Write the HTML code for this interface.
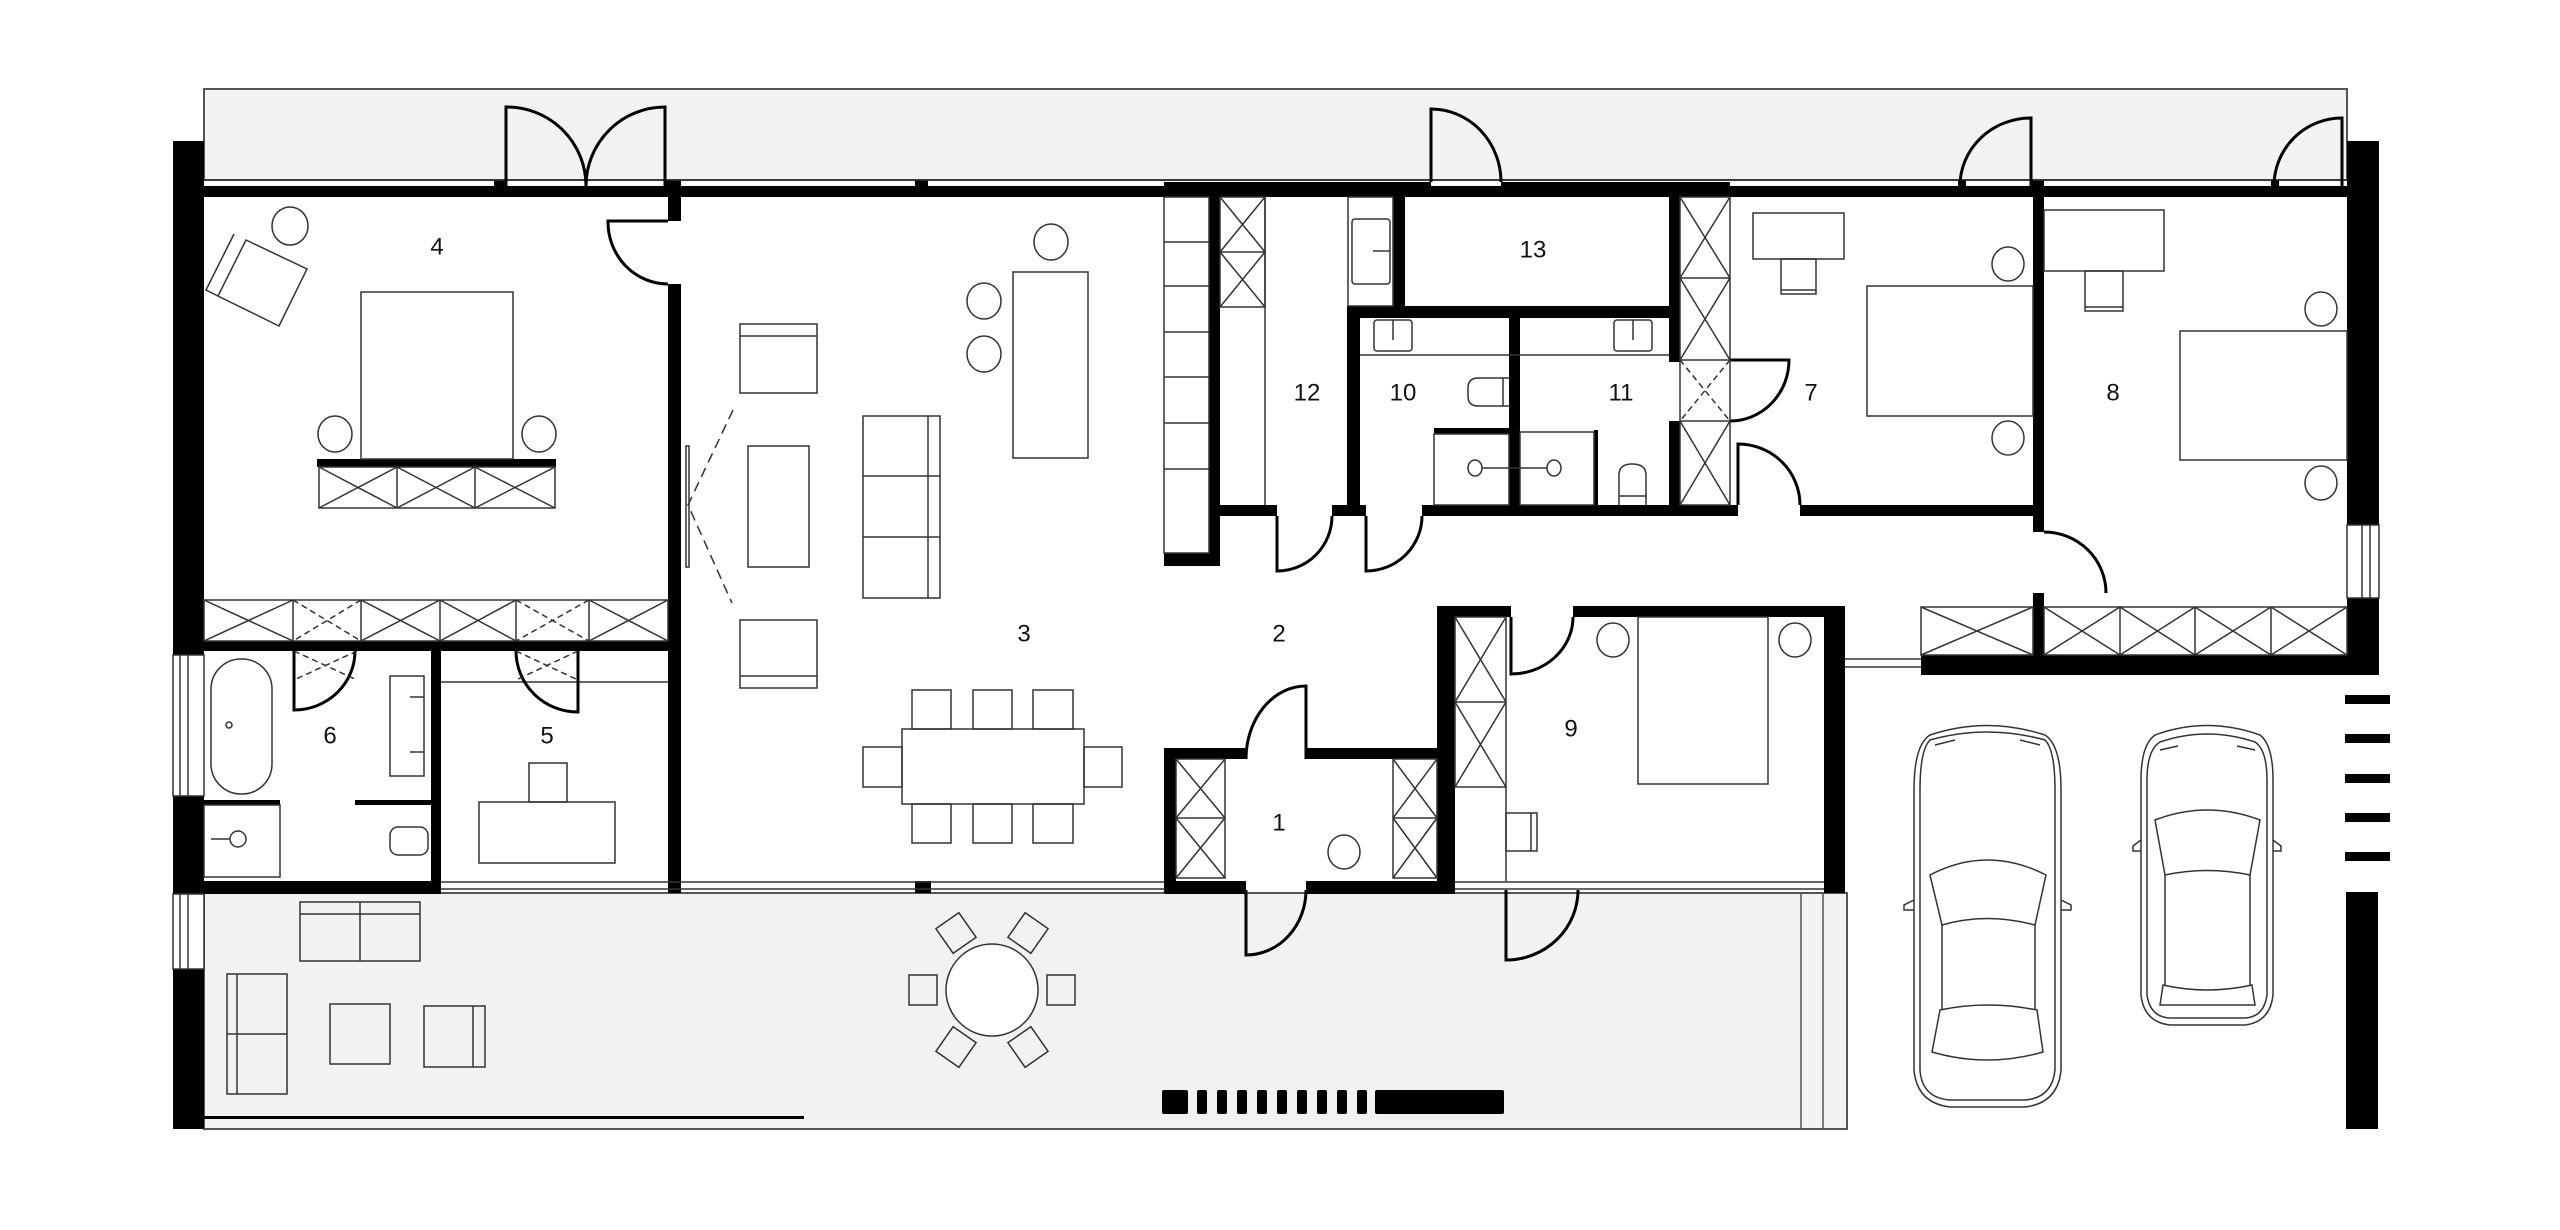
<!DOCTYPE html>
<html><head><meta charset="utf-8"><style>
html,body{margin:0;padding:0;background:#fff}
svg{display:block}
text{font-family:"Liberation Sans",sans-serif;font-size:24px;fill:#111;text-anchor:middle;dominant-baseline:middle}
</style></head><body>
<svg width="2560" height="1230" viewBox="0 0 2560 1230" xmlns="http://www.w3.org/2000/svg">
<!-- terraces -->
<rect x="204" y="89" width="2143" height="91" fill="#f2f2f2" stroke="#555" stroke-width="2"/>
<rect x="204" y="893" width="1643" height="236" fill="#f2f2f2" stroke="#555" stroke-width="2"/>
<line x1="1801" y1="893" x2="1801" y2="1129" stroke="#555" stroke-width="1.5"/>
<line x1="1823" y1="893" x2="1823" y2="1129" stroke="#555" stroke-width="1.5"/>

<g fill="#000">
<!-- top wall -->
<rect x="173" y="186" width="2206" height="11"/>
<rect x="494" y="180" width="13" height="8"/><rect x="665" y="180" width="16" height="8"/><rect x="915" y="180" width="13" height="8"/>
<rect x="1164" y="182" width="267" height="15"/><rect x="1501" y="182" width="229" height="15"/>
<rect x="1958" y="180" width="8" height="8"/><rect x="2031" y="180" width="13" height="8"/><rect x="2271" y="180" width="8" height="8"/>
<!-- left wall -->
<rect x="173" y="141" width="31" height="514"/><rect x="173" y="796" width="31" height="98"/><rect x="173" y="969" width="31" height="160"/>
<!-- right wall -->
<rect x="2347" y="141" width="32" height="384"/><rect x="2347" y="598" width="32" height="77"/>
<!-- south -->
<rect x="173" y="881" width="268" height="13"/>
<rect x="1165" y="881" width="81" height="13"/><rect x="1306" y="881" width="149" height="13"/>
<rect x="915" y="881" width="16" height="12"/>
<!-- interior -->
<rect x="668" y="197" width="13" height="24"/><rect x="668" y="284" width="13" height="609"/>
<rect x="204" y="641" width="477" height="10"/>
<rect x="431" y="651" width="10" height="230"/>
<rect x="204" y="800" width="76" height="5"/><rect x="355" y="800" width="76" height="5"/>
<rect x="1209" y="197" width="11" height="369"/><rect x="1164" y="553" width="56" height="13"/>
<rect x="1220" y="505" width="57" height="11"/><rect x="1332" y="505" width="34" height="11"/>
<rect x="1422" y="505" width="316" height="11"/><rect x="1800" y="505" width="244" height="11"/>
<rect x="1347" y="306" width="13" height="210"/><rect x="1347" y="306" width="333" height="12"/>
<rect x="1393" y="197" width="12" height="121"/><rect x="1509" y="318" width="11" height="187"/>
<rect x="1669" y="197" width="11" height="165"/><rect x="1669" y="421" width="11" height="95"/>
<rect x="2033" y="197" width="11" height="335"/><rect x="2033" y="593" width="11" height="82"/>
<rect x="1921" y="655" width="458" height="20"/>
<rect x="1437" y="606" width="74" height="11"/><rect x="1573" y="606" width="272" height="11"/>
<rect x="1824" y="606" width="21" height="287"/><rect x="1437" y="606" width="18" height="287"/>
<rect x="1164" y="748" width="12" height="145"/><rect x="1164" y="748" width="82" height="11"/><rect x="1306" y="748" width="139" height="11"/>
<rect x="1434" y="428" width="75" height="6"/><rect x="1594" y="430" width="4" height="75"/>
<rect x="317" y="459" width="239" height="8"/>
<!-- stripes -->
<rect x="2345" y="695" width="45" height="9"/><rect x="2345" y="734" width="45" height="9"/><rect x="2345" y="774" width="45" height="9"/><rect x="2345" y="813" width="45" height="9"/><rect x="2345" y="852" width="45" height="9"/>
<rect x="2346" y="892" width="32" height="237"/>
<!-- bottom bar -->
<rect x="1162" y="1090" width="26" height="24" rx="2"/>
<rect x="1197" y="1090" width="10" height="24" rx="2"/><rect x="1217" y="1090" width="10" height="24" rx="2"/><rect x="1237" y="1090" width="10" height="24" rx="2"/><rect x="1257" y="1090" width="10" height="24" rx="2"/><rect x="1277" y="1090" width="10" height="24" rx="2"/><rect x="1297" y="1090" width="10" height="24" rx="2"/><rect x="1317" y="1090" width="10" height="24" rx="2"/><rect x="1337" y="1090" width="10" height="24" rx="2"/><rect x="1357" y="1090" width="10" height="24" rx="2"/>
<rect x="1375" y="1090" width="129" height="24" rx="2"/>
<rect x="204" y="1116" width="600" height="3"/>
</g>

<!-- windows / glazing -->
<g fill="#fff" stroke="#333" stroke-width="1.5">
<rect x="173" y="655" width="31" height="141"/><rect x="173" y="894" width="31" height="75"/><rect x="2347" y="525" width="32" height="73"/>
</g>
<g stroke="#333" stroke-width="1.5" fill="none">
<line x1="180" y1="655" x2="180" y2="796"/><line x1="188" y1="655" x2="188" y2="796"/><line x1="180" y1="894" x2="180" y2="969"/><line x1="188" y1="894" x2="188" y2="969"/>
<line x1="2370" y1="525" x2="2370" y2="598"/><line x1="2362" y1="525" x2="2362" y2="598"/>
<line x1="441" y1="882" x2="1165" y2="882"/><line x1="441" y1="889" x2="1165" y2="889"/>
<line x1="1455" y1="882" x2="1824" y2="882"/><line x1="1455" y1="889" x2="1824" y2="889"/>
<line x1="1845" y1="659" x2="1921" y2="659"/><line x1="1845" y1="667" x2="1921" y2="667"/>
<line x1="441" y1="682" x2="668" y2="682"/>
<line x1="204" y1="180" x2="2347" y2="180"/>
</g>

<!-- doors -->
<g stroke="#000" stroke-width="3" fill="none">
<path d="M506 186 V107 A79 79 0 0 1 586 186"/>
<path d="M665 186 V107 A79 79 0 0 0 586 186"/>
<path d="M668 221 H608 A60 62 0 0 0 668 284"/>
<path d="M294 651 V710 A61 59 0 0 0 355 651"/>
<path d="M578 651 V712 A62 61 0 0 1 516 651"/>
<path d="M1431 182 V109 A70 73 0 0 1 1501 182"/>
<path d="M1277 516 V571 A55 55 0 0 0 1332 516"/>
<path d="M1366 516 V571 A56 55 0 0 0 1422 516"/>
<path d="M1730 360 H1789 A59 61 0 0 1 1730 421"/>
<path d="M1738 505 V444 A62 61 0 0 1 1800 505"/>
<path d="M2044 532 A62 61 0 0 1 2106 593"/>
<path d="M2031 186 V118 A71 68 0 0 0 1960 186"/>
<path d="M2342 186 V118 A68 68 0 0 0 2274 186"/>
<path d="M1511 617 V674 A62 57 0 0 0 1573 617"/>
<path d="M1506 890 V960 A72 70 0 0 0 1578 890"/>
<path d="M1306 759 V686 A60 73 0 0 0 1246 759"/>
<path d="M1246 890 V955 A60 65 0 0 0 1306 890"/>
</g>

<!-- thin furniture -->
<g stroke="#333" stroke-width="1.5" fill="none">
<!-- room 4 -->
<rect x="361" y="292" width="152" height="167"/>
<ellipse cx="335" cy="434" rx="17" ry="18"/><ellipse cx="539" cy="434" rx="17" ry="18"/>
<ellipse cx="290" cy="226" rx="18" ry="19"/>
<path d="M246 240 L307 269 L279 326 L218 296 Z"/><path d="M234 234 L206 290 L218 296"/>
<rect x="319" y="467" width="236" height="41"/>
<path d="M319 467 L397 508 M397 467 L319 508 M397 467 L475 508 M475 467 L397 508 M475 467 L555 508 M555 467 L475 508 M397 467 V508 M475 467 V508"/>
<rect x="204" y="600" width="464" height="41"/>
<path d="M204 600 L293 641 M293 600 L204 641 M361 600 L440 641 M440 600 L361 641 M440 600 L516 641 M516 600 L440 641 M589 600 L668 641 M668 600 L589 641 M293 600 V641 M361 600 V641 M440 600 V641 M516 600 V641 M589 600 V641"/>
<path d="M293 600 L361 641 M361 600 L293 641 M516 600 L589 641 M589 600 L516 641 M294 651 L357 680 M357 651 L294 680 M516 651 L578 680 M578 651 L516 680" stroke-dasharray="6 4"/>
<!-- bathroom 6 -->
<rect x="211" y="659" width="61" height="135" rx="30"/><circle cx="229" cy="725" r="3"/>
<rect x="204" y="805" width="76" height="72"/><circle cx="238" cy="839" r="8"/><line x1="211" y1="839" x2="230" y2="839"/>
<rect x="390" y="676" width="34" height="100"/><line x1="410" y1="697" x2="424" y2="697"/><line x1="410" y1="752" x2="424" y2="752"/>
<rect x="390" y="827" width="38" height="28" rx="8"/>
<!-- room 5 -->
<rect x="479" y="802" width="136" height="61"/><rect x="529" y="763" width="38" height="39"/>
<!-- living -->
<rect x="740" y="324" width="77" height="69"/><line x1="740" y1="336" x2="817" y2="336"/>
<rect x="740" y="620" width="77" height="68"/><line x1="740" y1="676" x2="817" y2="676"/>
<rect x="748" y="446" width="61" height="121"/>
<rect x="863" y="416" width="77" height="182"/><line x1="863" y1="476" x2="940" y2="476"/><line x1="863" y1="537" x2="940" y2="537"/><line x1="928" y1="416" x2="928" y2="598"/>
<rect x="686" y="446" width="3" height="121"/>
<path d="M733 410 L688 505 L732 603" stroke-dasharray="10 6"/>
<rect x="1013" y="272" width="75" height="186"/>
<ellipse cx="1051" cy="242" rx="17" ry="18"/><ellipse cx="984" cy="301" rx="17" ry="18"/><ellipse cx="984" cy="354" rx="17" ry="18"/>
<rect x="1164" y="197" width="45" height="356"/>
<path d="M1164 242 H1209 M1164 286 H1209 M1164 332 H1209 M1164 377 H1209 M1164 423 H1209 M1164 469 H1209"/>
<!-- dining -->
<rect x="902" y="729" width="182" height="75"/>
<rect x="912" y="690" width="39" height="39"/><rect x="973" y="690" width="39" height="39"/><rect x="1033" y="690" width="40" height="39"/>
<rect x="912" y="804" width="39" height="39"/><rect x="973" y="804" width="39" height="39"/><rect x="1033" y="804" width="40" height="39"/>
<rect x="863" y="747" width="39" height="40"/><rect x="1084" y="747" width="38" height="40"/>
<!-- 12 -->
<rect x="1220" y="197" width="45" height="110"/>
<path d="M1220 197 L1265 252 M1265 197 L1220 252 M1220 252 H1265 M1220 252 L1265 307 M1265 252 L1220 307"/>
<line x1="1265" y1="197" x2="1265" y2="505"/>
<rect x="1348" y="197" width="45" height="109"/><rect x="1352" y="219" width="38" height="65" rx="3"/><line x1="1373" y1="251" x2="1390" y2="251"/>
<!-- 10 11 -->
<rect x="1374" y="320" width="38" height="31" rx="3"/><line x1="1393" y1="320" x2="1393" y2="340"/>
<rect x="1614" y="320" width="38" height="31" rx="3"/><line x1="1633" y1="320" x2="1633" y2="340"/>
<line x1="1360" y1="355" x2="1669" y2="355"/>
<path d="M1509 378 H1478 Q1468 378 1468 388 V396 Q1468 406 1478 406 H1509"/><line x1="1503" y1="378" x2="1503" y2="406"/>
<rect x="1434" y="434" width="75" height="71"/><rect x="1520" y="432" width="74" height="73"/>
<ellipse cx="1475" cy="468" rx="7" ry="8"/><ellipse cx="1554" cy="468" rx="7" ry="8"/><line x1="1482" y1="468" x2="1547" y2="468"/>
<path d="M1619 505 V475 Q1619 464 1632 464 Q1646 464 1646 475 V505 M1619 496 H1646"/>
<!-- closet 7 -->
<rect x="1680" y="197" width="50" height="308"/>
<path d="M1680 197 L1730 278 M1730 197 L1680 278 M1680 278 H1730 M1680 278 L1730 360 M1730 278 L1680 360 M1680 360 H1730 M1680 421 H1730 M1680 421 L1730 505 M1730 421 L1680 505"/>
<path d="M1680 360 L1730 421 M1730 360 L1680 421" stroke-dasharray="6 4"/>
<!-- room 7 -->
<rect x="1753" y="213" width="91" height="46"/><rect x="1781" y="259" width="35" height="35"/><line x1="1781" y1="290" x2="1816" y2="290"/>
<rect x="1867" y="286" width="166" height="130"/>
<ellipse cx="2008" cy="264" rx="16" ry="17"/><ellipse cx="2008" cy="438" rx="16" ry="17"/>
<!-- room 8 -->
<rect x="2044" y="210" width="120" height="61"/><rect x="2085" y="271" width="38" height="40"/><line x1="2085" y1="307" x2="2123" y2="307"/>
<rect x="2180" y="331" width="167" height="129"/>
<ellipse cx="2321" cy="309" rx="16" ry="17"/><ellipse cx="2321" cy="483" rx="16" ry="17"/>
<rect x="1921" y="607" width="112" height="48"/><path d="M1921 607 L2033 655 M2033 607 L1921 655"/>
<rect x="2044" y="607" width="303" height="48"/>
<path d="M2120 607 V655 M2195 607 V655 M2271 607 V655 M2044 607 L2120 655 M2120 607 L2044 655 M2120 607 L2195 655 M2195 607 L2120 655 M2195 607 L2271 655 M2271 607 L2195 655 M2271 607 L2347 655 M2347 607 L2271 655"/>
<!-- room 9 -->
<rect x="1455" y="617" width="51" height="170"/>
<path d="M1455 617 L1506 702 M1506 617 L1455 702 M1455 702 H1506 M1455 702 L1506 787 M1506 702 L1455 787"/>
<line x1="1506" y1="787" x2="1506" y2="881"/>
<rect x="1638" y="617" width="130" height="167"/>
<ellipse cx="1613" cy="640" rx="16" ry="17"/><ellipse cx="1795" cy="640" rx="16" ry="17"/>
<rect x="1506" y="813" width="31" height="38"/><line x1="1531" y1="813" x2="1531" y2="851"/>
<!-- room 1 -->
<rect x="1176" y="759" width="49" height="119"/><path d="M1176 759 L1225 818 M1225 759 L1176 818 M1176 818 H1225 M1176 818 L1225 878 M1225 818 L1176 878"/>
<rect x="1393" y="759" width="44" height="119"/><path d="M1393 759 L1437 818 M1437 759 L1393 818 M1393 818 H1437 M1393 818 L1437 878 M1437 818 L1393 878"/>
<ellipse cx="1344" cy="852" rx="16" ry="17"/>
<!-- terrace furniture -->
<rect x="300" y="902" width="120" height="59"/><line x1="360" y1="902" x2="360" y2="961"/><line x1="300" y1="914" x2="420" y2="914"/>
<rect x="227" y="974" width="60" height="120"/><line x1="227" y1="1034" x2="287" y2="1034"/><line x1="237" y1="974" x2="237" y2="1094"/>
<rect x="330" y="1004" width="60" height="60"/>
<rect x="424" y="1006" width="61" height="61"/><line x1="473" y1="1006" x2="473" y2="1067"/>
<circle cx="992" cy="990" r="46" fill="#fff"/>
<rect x="909" y="975" width="28" height="30"/><rect x="1047" y="975" width="28" height="30"/>
<rect x="942" y="918" width="28" height="30" transform="rotate(-35 956 933)"/><rect x="1014" y="918" width="28" height="30" transform="rotate(35 1028 933)"/>
<rect x="942" y="1032" width="28" height="30" transform="rotate(35 956 1047)"/><rect x="1014" y="1032" width="28" height="30" transform="rotate(-35 1028 1047)"/>
<!-- cars -->
<path d="M1930 735 Q1987 716 2045 735 Q2061 745 2061 790 V1070 Q2058 1103 2025 1107 H1950 Q1917 1103 1914 1070 V790 Q1914 745 1930 735 Z"/>
<path d="M1930 740 Q1987 724 2045 740 Q2055 750 2055 790 V1070 Q2052 1098 2025 1100 H1950 Q1922 1098 1920 1070 V790 Q1920 750 1930 740 Z"/>
<path d="M1930 875 Q1987 845 2046 875 L2035 925 Q1987 912 1942 925 Z"/>
<path d="M1942 925 V1010 M2035 925 V1010"/>
<path d="M1940 1010 Q1987 1000 2037 1010 L2043 1052 Q1987 1068 1932 1052 Z"/>
<path d="M1914 900 l-10 5 v5 h10 M2061 900 l10 5 v5 h-10"/>
<path d="M1935 745 l20 -5 M2040 745 l-20 -5"/>
<path d="M2155 735 Q2207 716 2260 735 Q2273 745 2273 780 V995 Q2270 1022 2245 1025 H2170 Q2144 1022 2141 995 V780 Q2141 745 2155 735 Z"/>
<path d="M2160 742 Q2207 726 2255 742 Q2267 750 2267 780 V995 Q2264 1017 2245 1018 H2170 Q2150 1017 2147 995 V780 Q2147 750 2160 742 Z"/>
<path d="M2155 820 Q2207 800 2260 820 L2250 875 Q2207 866 2165 875 Z"/>
<path d="M2165 875 V985 M2250 875 V985"/>
<path d="M2163 985 Q2207 995 2252 985 L2255 1005 H2160 Z"/>
<path d="M2141 840 l-8 6 v5 h8 M2273 840 l8 6 v5 h-8"/>
<path d="M2160 750 l18 -4 M2255 750 l-18 -4"/>
</g>

<!-- labels -->
<text x="437" y="248">4</text>
<text x="330" y="737">6</text>
<text x="547" y="737">5</text>
<text x="1024" y="635">3</text>
<text x="1279" y="635">2</text>
<text x="1279" y="824">1</text>
<text x="1307" y="394">12</text>
<text x="1403" y="394">10</text>
<text x="1621" y="394">11</text>
<text x="1533" y="251">13</text>
<text x="1811" y="394">7</text>
<text x="2113" y="394">8</text>
<text x="1571" y="730">9</text>
</svg>
</body></html>
